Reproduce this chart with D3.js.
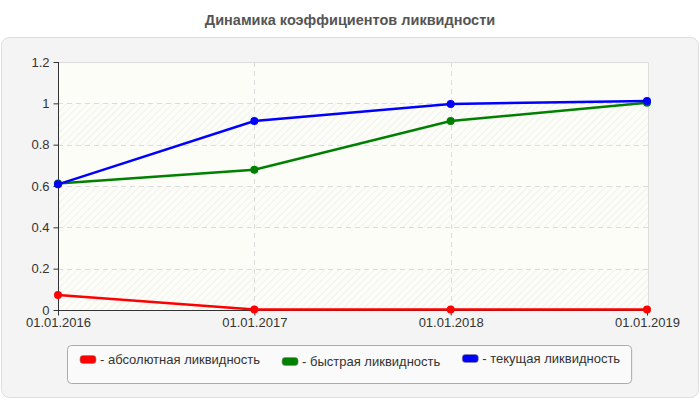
<!DOCTYPE html>
<html>
<head>
<meta charset="utf-8">
<script src="https://cdn.jsdelivr.net/npm/d3@7"></script>
<style>
  body { margin: 0; background: #fff; }
  svg text { font-family: "Liberation Sans", Arial, sans-serif; }
</style>
</head>
<body>
<svg id="chart" width="700" height="400"></svg>
<script>
// data
var dates = ["01.01.2016", "01.01.2017", "01.01.2018", "01.01.2019"];
var absolute = [0.073, 0.003, 0.002, 0.002];
var quick = [0.612, 0.679, 0.914, 1.003];
var current = [0.608, 0.914, 0.997, 1.011];
var yTicks = [0, 0.2, 0.4, 0.6, 0.8, 1, 1.2];
var seriesNames = ["- абсолютная ликвидность", "- быстрая ликвидность", "- текущая ликвидность"];
var seriesColors = ["#ff0000", "#008000", "#0000ff"];

var W = 700, H = 400;
var pLeft = 58, pRight = 648, pTop = 62, pBottom = 310;

var svg = d3.select("#chart");

// hatch pattern
var defs = svg.append("defs");
var pat = defs.append("pattern")
    .attr("id", "hatch")
    .attr("width", 5).attr("height", 5)
    .attr("patternUnits", "userSpaceOnUse")
    .attr("patternTransform", "rotate(45)");
pat.append("rect").attr("width", 5).attr("height", 5).attr("fill", "#fdfdf8");
pat.append("line").attr("x1", 0).attr("y1", 0).attr("x2", 0).attr("y2", 5)
    .attr("stroke", "#ececec").attr("stroke-width", 1.5);

// title
svg.append("text")
    .attr("x", W / 2).attr("y", 25)
    .attr("text-anchor", "middle")
    .attr("font-size", 14.5).attr("font-weight", "bold")
    .attr("fill", "#555")
    .text("Динамика коэффициентов ликвидности");

// outer panel
svg.append("rect")
    .attr("x", 1.5).attr("y", 37.5).attr("width", 697).attr("height", 360)
    .attr("rx", 8).attr("fill", "#f4f4f4").attr("stroke", "#dedede");

var x = d3.scalePoint().domain(dates).range([pLeft, pRight - 1]);
var y = d3.scaleLinear().domain([0, 1.2]).range([pBottom, pTop]);

// bands
var bands = yTicks.slice(0, -1);
svg.append("g").selectAll("rect").data(bands).join("rect")
    .attr("x", pLeft).attr("width", pRight - pLeft)
    .attr("y", function(d) { return y(d + 0.2); })
    .attr("height", function(d) { return y(d) - y(d + 0.2); })
    .attr("fill", function(d, i) { return i % 2 == 0 ? "url(#hatch)" : "#fdfdf8"; });

// plot border top / right
svg.append("path")
    .attr("d", "M" + pLeft + "," + (pTop + 0.5) + "H" + (pRight + 0.5) + "V" + pBottom)
    .attr("fill", "none").attr("stroke", "#dddddd");

// grid
svg.append("g").selectAll("line").data(yTicks.slice(1, -1)).join("line")
    .attr("x1", pLeft).attr("x2", pRight)
    .attr("y1", function(d) { return Math.round(y(d)) + 0.5; })
    .attr("y2", function(d) { return Math.round(y(d)) + 0.5; })
    .attr("stroke", "#dcdcdc").attr("stroke-dasharray", "5,4");
svg.append("g").selectAll("line").data(dates.slice(1, -1)).join("line")
    .attr("x1", function(d) { return Math.round(x(d)) + 0.5; })
    .attr("x2", function(d) { return Math.round(x(d)) + 0.5; })
    .attr("y1", pTop).attr("y2", pBottom)
    .attr("stroke", "#dcdcdc").attr("stroke-dasharray", "5,4");

// axes
var yAxis = svg.append("g")
    .attr("transform", "translate(" + (pLeft + 0.5) + ",0)")
    .call(d3.axisLeft(y).tickValues(yTicks).tickSize(5).tickPadding(4)
        .tickFormat(function(d) { return String(+d.toFixed(1)); }));
var xAxis = svg.append("g")
    .attr("transform", "translate(0," + (pBottom + 0.5) + ")")
    .call(d3.axisBottom(x).tickSize(5).tickPadding(2));
[yAxis, xAxis].forEach(function(a) {
    a.select(".domain").attr("stroke", "#333");
    a.selectAll(".tick line").attr("stroke", "#333");
    a.selectAll(".tick text").attr("fill", "#333").attr("font-size", 13)
        .attr("font-family", "Liberation Sans, Arial, sans-serif");
});
yAxis.select(".domain").attr("d", "M0," + pTop + "V" + pBottom);
xAxis.select(".domain").attr("d", "M" + pLeft + ",0H" + pRight);

// lines
var allSeries = [absolute, quick, current];
var line = d3.line()
    .x(function(d, i) { return x(dates[i]); })
    .y(function(d) { return y(d); });

allSeries.forEach(function(s, k) {
    var g = svg.append("g");
    g.append("path").datum(s)
        .attr("d", line)
        .attr("fill", "none")
        .attr("stroke", seriesColors[k])
        .attr("stroke-width", 2.5);
    g.selectAll("circle").data(s).join("circle")
        .attr("cx", function(d, i) { return x(dates[i]); })
        .attr("cy", function(d) { return y(d); })
        .attr("r", 4)
        .attr("fill", seriesColors[k]);
});

// legend
var legend = svg.append("g");
var legBox = legend.append("rect")
    .attr("y", 345.5).attr("height", 38)
    .attr("rx", 4).attr("fill", "#fafafa").attr("stroke", "#aaaaaa");
var itemY = [364, 366, 363];
var cx = 0;
var items = legend.append("g");
seriesNames.forEach(function(name, k) {
    var it = items.append("g").attr("transform", "translate(" + cx + ",0)");
    it.append("rect")
        .attr("x", 0).attr("y", itemY[k] - 8.5)
        .attr("width", 16).attr("height", 8).attr("rx", 3)
        .attr("fill", seriesColors[k]).attr("stroke", "#888").attr("stroke-width", 0.6);
    var t = it.append("text")
        .attr("x", 20).attr("y", itemY[k])
        .attr("font-size", 13).attr("fill", "#333")
        .text(name);
    cx += 20 + t.node().getComputedTextLength() + 22;
});
var itemsW = cx - 22;
var ix = Math.round(W / 2 - itemsW / 2);
items.attr("transform", "translate(" + ix + ",0)");
legBox.attr("x", ix - 12.5).attr("width", itemsW + 24);
</script>
</body>
</html>
